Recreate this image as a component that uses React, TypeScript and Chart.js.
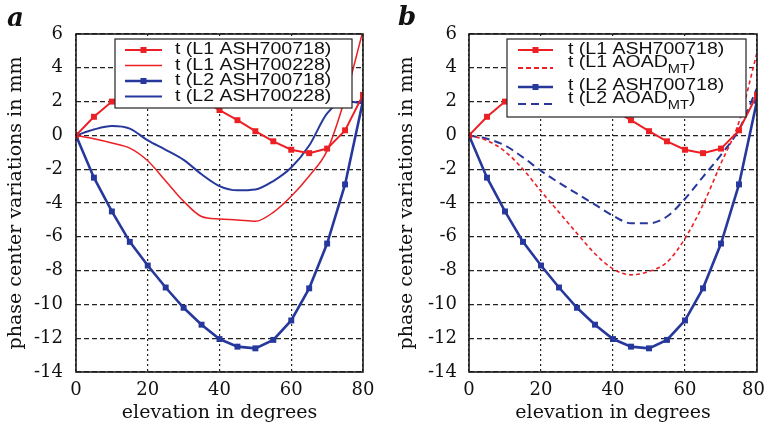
import React, { useEffect, useRef } from 'react';
import { Chart, registerables } from 'chart.js';
Chart.register(...registerables);

// ---------- data ----------
const elevation = [0, 5, 10, 15, 20, 25, 30, 35, 40, 45, 50, 55, 60, 65, 70, 75, 80];
const l1Ash700718 = [0, 1.1, 2.0, 2.5, 2.7, 2.7, 2.5, 2.1, 1.5, 0.9, 0.25, -0.35, -0.85, -1.05, -0.78, 0.3, 2.4];
const l2Ash700718 = [0, -2.5, -4.5, -6.3, -7.7, -9.0, -10.2, -11.2, -12.05, -12.5, -12.6, -12.1, -10.95, -9.05, -6.4, -2.9, 2.05];
const l1Ash700228 = [0, -0.2, -0.45, -0.75, -1.5, -2.7, -3.9, -4.8, -4.95, -5.0, -5.08, -4.55, -3.6, -2.4, -0.9, 2.2, 6.2];
const l2Ash700228 = [0, 0.35, 0.55, 0.4, -0.3, -0.85, -1.45, -2.3, -3.0, -3.25, -3.2, -2.7, -1.9, -0.6, 1.3, 2.0, 1.9];
const l1AoadMt = [0, -0.3, -0.95, -2.0, -3.3, -4.55, -5.8, -7.0, -7.9, -8.25, -8.05, -7.5, -6.1, -4.1, -1.65, 0.8, 4.9];
const l2AoadMt = [0, -0.2, -0.6, -1.3, -2.1, -2.8, -3.45, -4.1, -4.75, -5.2, -5.2, -4.8, -3.75, -2.45, -1.15, 0.35, 2.8];
const xTicks = [0, 20, 40, 60, 80];
const yTicks = [-14, -12, -10, -8, -6, -4, -2, 0, 2, 4, 6];
const xTitle = 'elevation in degrees';
const yTitle = 'phase center variations in mm';

const RED = '#ec1f24';
const BLUE = '#27389c';
const SERIF = '"DejaVu Serif", serif';
const SANS = '"Liberation Sans", Arial, sans-serif';

const pts = (ys: number[]) => elevation.map((x, i) => ({ x, y: ys[i] }));

type LegendItem = {
  main: string; sub?: string; tail?: string;
  color: string; width: number; dash?: number[]; marker?: boolean;
  ly: number; ty: number;
};
type Panel = {
  label: string; labelX: number; labelY: number;
  padRight: number; yWidth: number; yTickPad: number; yTitlePad: number;
  shiftLastX: boolean;
  box: [number, number, number, number];
  sampleX: [number, number]; textX: number;
  items: LegendItem[];
  datasets: any[];
};

const markerSet = (label: string, ys: number[], color: string, width: number) => ({
  label, data: pts(ys), borderColor: color, backgroundColor: color, borderWidth: width,
  pointStyle: 'rect', pointRadius: 4.2, pointBorderWidth: 0, tension: 0, fill: false,
});
const lineSet = (label: string, ys: number[], color: string, width: number, dash?: number[]) => ({
  label, data: pts(ys), borderColor: color, backgroundColor: color, borderWidth: width,
  borderDash: dash || [], pointRadius: 0, tension: 0.35, cubicInterpolationMode: 'monotone', fill: false,
});

const panelA: Panel = {
  label: 'a', labelX: 7, labelY: 26,
  padRight: 27, yWidth: 76, yTickPad: 13, yTitlePad: 5, shiftLastX: false,
  box: [115, 39, 237, 69], sampleX: [125, 162], textX: 175,
  items: [
    { main: 't (L1 ASH700718)', color: RED, width: 2, marker: true, ly: 50, ty: 50 },
    { main: 't (L1 ASH700228)', color: RED, width: 1.5, ly: 65.5, ty: 65.5 },
    { main: 't (L2 ASH700718)', color: BLUE, width: 2.6, marker: true, ly: 81, ty: 81 },
    { main: 't (L2 ASH700228)', color: BLUE, width: 2, ly: 96.5, ty: 96.5 },
  ],
  datasets: [
    markerSet('t (L1 ASH700718)', l1Ash700718, RED, 2),
    lineSet('t (L1 ASH700228)', l1Ash700228, RED, 1.5),
    markerSet('t (L2 ASH700718)', l2Ash700718, BLUE, 2.6),
    lineSet('t (L2 ASH700228)', l2Ash700228, BLUE, 2),
  ],
};

const panelB: Panel = {
  label: 'b', labelX: 8, labelY: 25,
  padRight: 8, yWidth: 79, yTickPad: 12, yTitlePad: 6, shiftLastX: true,
  box: [117, 39, 239, 78], sampleX: [128, 163], textX: 178,
  items: [
    { main: 't (L1 ASH700718)', color: RED, width: 2, marker: true, ly: 50, ty: 50 },
    { main: 't (L1 AOAD', sub: 'MT', tail: ')', color: RED, width: 1.8, dash: [5, 3], ly: 68, ty: 63 },
    { main: 't (L2 ASH700718)', color: BLUE, width: 2.6, marker: true, ly: 87, ty: 86 },
    { main: 't (L2 AOAD', sub: 'MT', tail: ')', color: BLUE, width: 2, dash: [8, 5], ly: 104, ty: 98.5 },
  ],
  datasets: [
    markerSet('t (L1 ASH700718)', l1Ash700718, RED, 2),
    lineSet('t (L1 AOAD MT)', l1AoadMt, RED, 1.6, [4, 3]),
    markerSet('t (L2 ASH700718)', l2Ash700718, BLUE, 2.6),
    lineSet('t (L2 AOAD MT)', l2AoadMt, BLUE, 2, [8, 5]),
  ],
};

function makeChart(canvas: HTMLCanvasElement, p: Panel) {
  const lastX = xTicks[xTicks.length - 1];
  const overlay = {
    id: 'overlay',
    afterDatasetsDraw(chart: any) {
      const ctx = chart.ctx as CanvasRenderingContext2D;
      const a = chart.chartArea;
      ctx.save();
      // frame
      ctx.strokeStyle = '#1a1a1a';
      ctx.lineWidth = 1.6;
      ctx.setLineDash([]);
      ctx.strokeRect(a.left, a.top, a.right - a.left, a.bottom - a.top);
      // legend box
      const [bx, by, bw, bh] = p.box;
      ctx.fillStyle = '#ffffff';
      ctx.fillRect(bx, by, bw, bh);
      ctx.strokeStyle = '#222';
      ctx.lineWidth = 1.2;
      ctx.strokeRect(bx, by, bw, bh);
      for (const it of p.items) {
        ctx.save();
        ctx.strokeStyle = it.color;
        ctx.lineWidth = it.width;
        ctx.setLineDash(it.dash || []);
        ctx.beginPath();
        ctx.moveTo(p.sampleX[0], it.ly);
        ctx.lineTo(p.sampleX[1], it.ly);
        ctx.stroke();
        if (it.marker) {
          ctx.fillStyle = it.color;
          const cx = (p.sampleX[0] + p.sampleX[1]) / 2;
          ctx.fillRect(cx - 3, it.ly - 3, 6, 6);
        }
        ctx.restore();
        ctx.save();
        ctx.fillStyle = '#111';
        ctx.textBaseline = 'middle';
        ctx.textAlign = 'left';
        ctx.translate(p.textX, it.ty);
        ctx.scale(1.22, 1);
        ctx.font = `16px ${SANS}`;
        ctx.fillText(it.main, 0, 0);
        let w = ctx.measureText(it.main).width;
        if (it.sub) {
          ctx.font = `12px ${SANS}`;
          ctx.fillText(it.sub, w, 7);
          w += ctx.measureText(it.sub).width;
          ctx.font = `16px ${SANS}`;
          ctx.fillText(it.tail || '', w, 0);
        }
        ctx.restore();
      }
      ctx.restore();
    },
    afterDraw(chart: any) {
      const ctx = chart.ctx as CanvasRenderingContext2D;
      ctx.save();
      ctx.fillStyle = '#111';
      ctx.font = `italic bold 26px ${SERIF}`;
      ctx.textBaseline = 'alphabetic';
      ctx.textAlign = 'left';
      ctx.fillText(p.label, p.labelX, p.labelY);
      if (p.shiftLastX) {
        // last x tick label kept inside the canvas edge
        ctx.font = `18px ${SERIF}`;
        ctx.textAlign = 'right';
        ctx.textBaseline = 'middle';
        ctx.fillText(String(lastX), chart.width, chart.chartArea.bottom + 8 + 10.8);
      }
      ctx.restore();
    },
  };

  return new Chart(canvas, {
    type: 'line',
    data: { datasets: p.datasets },
    plugins: [overlay],
    options: {
      responsive: false,
      animation: false,
      layout: { padding: { top: 34, right: p.padRight, left: 0, bottom: 0 } },
      plugins: { legend: { display: false }, tooltip: { enabled: false }, title: { display: false } },
      scales: {
        x: {
          type: 'linear', min: 0, max: 80,
          afterBuildTicks: (s: any) => { s.ticks = xTicks.map((v) => ({ value: v })); },
          afterFit: (s: any) => { s.height = 56; s.paddingLeft = 0; s.paddingRight = 0; },
          ticks: {
            color: '#111', font: { family: SERIF, size: 18 }, padding: 8, maxRotation: 0, autoSkip: false,
            callback: (v: any) => (p.shiftLastX && v === lastX ? '' : String(v)),
          },
          grid: { color: '#222', lineWidth: 1.2, drawTicks: false },
          border: { display: false, dash: [2, 3] },
          title: { display: true, text: xTitle, color: '#111', font: { family: SERIF, size: 19 }, padding: { top: 0, bottom: 4 } },
        },
        y: {
          type: 'linear', min: -14, max: 6,
          afterBuildTicks: (s: any) => { s.ticks = yTicks.map((v) => ({ value: v })); },
          afterFit: (s: any) => { s.width = p.yWidth; s.paddingTop = 0; s.paddingBottom = 0; },
          ticks: { color: '#111', font: { family: SERIF, size: 18 }, padding: p.yTickPad, autoSkip: false },
          grid: { color: '#222', lineWidth: 1.2, drawTicks: false },
          border: { display: false, dash: [5, 3] },
          title: { display: true, text: yTitle, color: '#111', font: { family: SERIF, size: 19 }, padding: { top: p.yTitlePad, bottom: 0 } },
        },
      },
    } as any,
  });
}

export default function App() {
  const refA = useRef<HTMLCanvasElement>(null);
  const refB = useRef<HTMLCanvasElement>(null);
  useEffect(() => {
    const ca = makeChart(refA.current!, panelA);
    const cb = makeChart(refB.current!, panelB);
    return () => { ca.destroy(); cb.destroy(); };
  }, []);
  return (
    <div style={{ position: 'fixed', left: 0, top: 0, width: 765, height: 428, background: '#fff', overflow: 'hidden' }}>
      <canvas ref={refA} width={390} height={428} style={{ position: 'absolute', left: 0, top: 0, width: 390, height: 428 }} />
      <canvas ref={refB} width={375} height={428} style={{ position: 'absolute', left: 390, top: 0, width: 375, height: 428 }} />
    </div>
  );
}
